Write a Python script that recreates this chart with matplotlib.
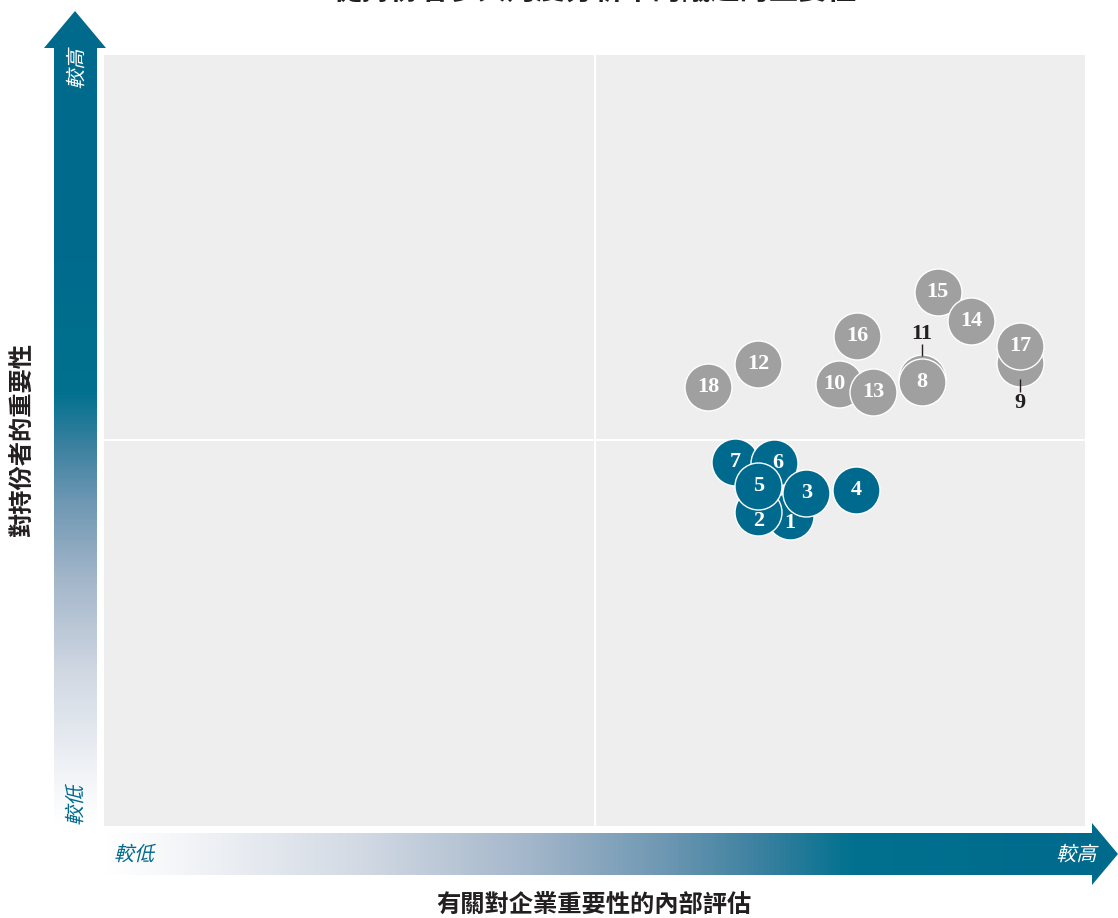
import matplotlib
matplotlib.use("Agg")
import matplotlib.pyplot as plt
import numpy as np
from matplotlib.textpath import TextPath
from matplotlib.font_manager import FontProperties
from matplotlib.patches import PathPatch, Polygon
from matplotlib.transforms import Affine2D, offset_copy
from matplotlib.colors import LinearSegmentedColormap

plt.rcParams['font.family'] = ['Noto Sans CJK TC', 'DejaVu Sans']

# ---------------- data ----------------
title = "從持份者參與角度分析中的議題的重要性"
x_label = "有關對企業重要性的內部評估"
y_label = "對持份者的重要性"
low_text = "較低"
high_text = "較高"

# blue group (drawing order)
blue_labels = ['7', '6', '1', '2', '3', '5', '4']
blue_x = [6.43, 6.83, 6.99, 6.67, 7.16, 6.67, 7.67]
blue_y = [4.72, 4.71, 4.02, 4.07, 4.32, 4.41, 4.36]

# grey group (drawing order)
grey_labels = ['9', '11', '10', '15', '17', '14', '16', '12', '18', '13', '8']
grey_x = [9.34, 8.34, 7.49, 8.50, 9.34, 8.84, 7.68, 6.67, 6.16, 7.84, 8.34]
grey_y = [6.01, 5.81, 5.73, 6.93, 6.23, 6.55, 6.36, 5.99, 5.69, 5.63, 5.76]

# labels shown as call-outs outside the bubble
callout_above = ['11']
callout_below = ['9']
# small label nudges (points) where the number sits off-centre in its bubble
label_nudge = {'2': (0, -6), '1': (0, -5), '6': (3, 0), '10': (-3, 0)}

BLUE = '#006a8e'
GREY = '#a0a0a0'
BG = '#eeeeee'
INK = '#231f20'

W, H = 1118, 918
fig = plt.figure(figsize=(W / 100, H / 100), dpi=100)

# ---------------- overlay for arrows ----------------
ov = fig.add_axes([0, 0, 1, 1], zorder=0)
ov.set_xlim(0, W)
ov.set_ylim(H, 0)
ov.axis('off')

cmap = LinearSegmentedColormap.from_list(
    'arr', [(0.0, '#ffffff'), (0.05, '#f8f9fb'), (0.25, '#d3dae4'), (0.42, '#a3b6ca'),
            (0.55, '#6f98b3'), (0.65, '#3a809f'), (0.74, '#00718f'), (1.0, '#006a8c')])

def grad_arrow(poly, extent, vertical, vmax):
    patch = Polygon(poly, closed=True, fc='none', ec='none')
    ov.add_patch(patch)
    g = np.linspace(0, 1, 512)
    if vertical:
        arr = np.repeat(g[::-1][:, None], 2, axis=1)
    else:
        arr = np.repeat(g[None, :], 2, axis=0)
    im = ov.imshow(arr, cmap=cmap, extent=extent, aspect='auto', origin='upper',
                   interpolation='bilinear', vmin=0, vmax=vmax)
    im.set_clip_path(patch)

v_poly = [(54, 826), (54, 48), (44, 48), (75, 11), (106, 48), (97, 48), (97, 826)]
grad_arrow(v_poly, (44, 106, 826, 11), vertical=True, vmax=0.72)
h_poly = [(104, 833), (1092, 833), (1092, 823), (1118, 854), (1092, 885), (1092, 875), (104, 875)]
grad_arrow(h_poly, (104, 1118, 885, 823), vertical=False, vmax=1.0)

fp_it = FontProperties(family='Noto Sans CJK TC', weight='medium')

def skew_text(s, cx, cy, size, color, rot=0):
    tp = TextPath((0, 0), s, size=size, prop=fp_it)
    ext = tp.get_extents()
    tr = (Affine2D().translate(-(ext.x0 + ext.x1) / 2, -(ext.y0 + ext.y1) / 2)
          .skew_deg(14, 0).rotate_deg(rot).scale(1, -1).translate(cx, cy))
    ov.add_patch(PathPatch(tr.transform_path(tp), fc=color, ec='none', zorder=5))

skew_text(high_text, 75, 68, 20, 'white', rot=90)
skew_text(low_text, 74, 804, 20, BLUE, rot=90)
skew_text(low_text, 136, 853, 20, BLUE)
skew_text(high_text, 1078, 853, 20, 'white')

# ---------------- main axes ----------------
ax = fig.add_axes([104 / W, 1 - 826 / H, (1085 - 104) / W, (826 - 55) / H], zorder=2)
ax.set_facecolor(BG)
ax.set_xlim(0, 10)
ax.set_ylim(0, 10)
for sp in ax.spines.values():
    sp.set_visible(False)
ax.set_xticks([])
ax.set_yticks([])
ax.axvline(5, color='white', lw=1.5, zorder=1)
ax.axhline(5, color='white', lw=1.5, zorder=1)

S = 1145
num_font = dict(family='Liberation Serif', weight='bold', fontsize=16)

def leader(x, y, p0, p1):
    # vertical leader line between offsets p0 and p1 (points) from a bubble centre
    t0 = offset_copy(ax.transData, fig=fig, x=0, y=p0, units='points')
    t1 = offset_copy(ax.transData, fig=fig, x=0, y=p1, units='points')
    d0 = ax.transData.inverted().transform(t0.transform((x, y)))
    d1 = ax.transData.inverted().transform(t1.transform((x, y)))
    ax.plot([d0[0], d1[0]], [d0[1], d1[1]], color=INK, lw=1.0, zorder=50,
            solid_capstyle='butt')

def draw_group(labels, xs, ys, color, z0):
    for i, (lab, x, y) in enumerate(zip(labels, xs, ys)):
        z = z0 + i
        ax.scatter([x], [y], s=S, color=color, edgecolors='white', linewidths=1.0, zorder=z)
        if lab in callout_above:
            ax.annotate(lab, xy=(x, y), xytext=(0, 32), textcoords='offset points',
                        ha='center', va='center', color=INK, zorder=50, **num_font)
            leader(x, y, 16.0, 24.5)
        elif lab in callout_below:
            ax.annotate(lab, xy=(x, y), xytext=(0, -29), textcoords='offset points',
                        ha='center', va='center', color=INK, zorder=50, **num_font)
            leader(x, y, -12.0, -21.0)
        else:
            dx, dy = label_nudge.get(lab, (0, 0))
            ax.annotate(lab, xy=(x, y), xytext=(dx, dy), textcoords='offset points',
                        ha='center', va='center', color='white', zorder=40, **num_font)

draw_group(grey_labels, grey_x, grey_y, GREY, 10)
draw_group(blue_labels, blue_x, blue_y, BLUE, 10)
ax.set_xlim(0, 10)
ax.set_ylim(0, 10)

# ---------------- titles ----------------
fig.text(595 / W, 1 - 5 / H, title, ha='center', va='bottom', fontsize=21,
         fontweight='bold', color=INK)
fig.text(594 / W, 1 - 905 / H, x_label, ha='center', va='center', fontsize=17.5,
         fontweight='bold', color=INK)
fig.text(23 / W, 1 - 440 / H, y_label, ha='center', va='center', fontsize=17.5,
         fontweight='bold', color=INK, rotation=90)

fig.savefig('out.png', dpi=100)
